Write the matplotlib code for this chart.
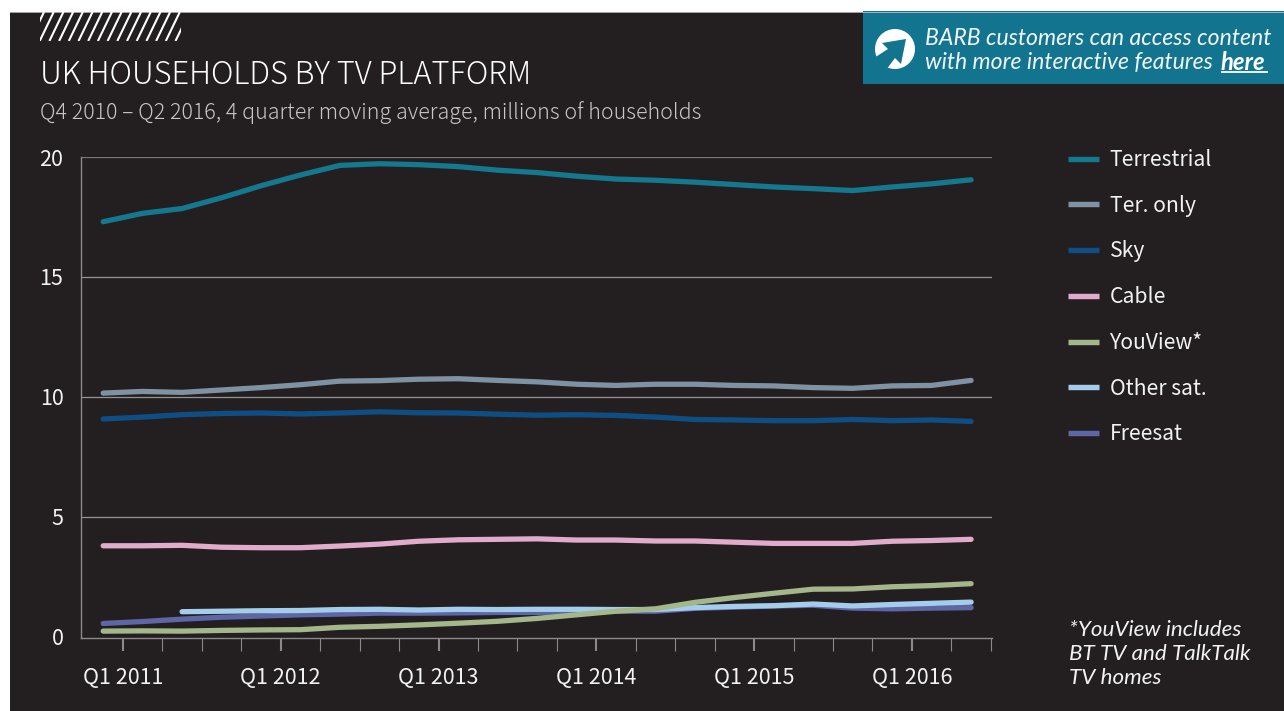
import matplotlib
matplotlib.use("Agg")
import matplotlib.pyplot as plt
from matplotlib.patches import Rectangle, Circle, Polygon
import numpy as np

quarters = list(range(23))
terrestrial = [17.3,17.65,17.85,18.3,18.8,19.25,19.65,19.72,19.68,19.6,19.45,19.35,19.2,19.08,19.03,18.95,18.85,18.75,18.68,18.6,18.75,18.88,19.05]
ter_only = [10.15,10.22,10.18,10.28,10.38,10.5,10.65,10.67,10.73,10.75,10.68,10.62,10.52,10.47,10.52,10.52,10.47,10.45,10.38,10.35,10.45,10.47,10.68]
sky = [9.07,9.15,9.25,9.3,9.32,9.28,9.32,9.37,9.33,9.32,9.27,9.23,9.25,9.22,9.15,9.05,9.03,9.0,9.0,9.05,9.0,9.03,8.97]
cable = [3.78,3.78,3.8,3.72,3.7,3.7,3.77,3.85,3.97,4.03,4.05,4.07,4.02,4.02,3.98,3.98,3.93,3.88,3.88,3.88,3.97,4.0,4.05]
youview = [.22,.23,.22,.25,.27,.28,.38,.42,.48,.55,.63,.75,.9,1.05,1.15,1.42,1.62,1.8,1.97,1.98,2.07,2.12,2.2]
other_sat = [None,None,1.03,1.05,1.07,1.08,1.12,1.13,1.1,1.13,1.12,1.13,1.13,1.12,1.12,1.2,1.25,1.28,1.35,1.27,1.33,1.38,1.43]
freesat = [.54,.62,.72,.8,.85,.9,.93,.97,.97,.98,1.0,1.0,1.03,1.05,1.05,1.17,1.22,1.27,1.3,1.18,1.15,1.18,1.2]
y_ticks = [0,5,10,15,20]
x_tick_labels = ["Q1 2011","Q1 2012","Q1 2013","Q1 2014","Q1 2015","Q1 2016"]

BG = "#231F20"; W = 1284; H = 711
SANS = ["Noto Sans CJK JP","DejaVu Sans"]
ITAL = "Lato"
TXT = "#F2F2F2"

fig = plt.figure(figsize=(W/100,H/100),dpi=100,facecolor="white")
deco = fig.add_axes([0,0,1,1]); deco.set_xlim(0,W); deco.set_ylim(H,0); deco.axis("off")
deco.add_patch(Rectangle((9.5,11.5),W,H,fc=BG,ec="none"))
deco.plot([9.5,W],[11.5,11.5],color="#BDBDBD",lw=0.6)

# hatch strip
clip = Rectangle((40,12),140.5,29,transform=deco.transData,fc="none",ec="none")
deco.add_patch(clip)
for x0 in np.arange(30,200,9.7):
    l, = deco.plot([x0,x0+14],[41,12],color="white",lw=1.5,solid_capstyle="butt")
    l.set_clip_path(clip)

deco.text(39.5,75.5,"UK HOUSEHOLDS BY TV PLATFORM",family=SANS,fontsize=22.2,color="white",va="center",fontweight="light")
deco.text(39.5,113,"Q4 2010 – Q2 2016, 4 quarter moving average, millions of households",family=SANS,fontsize=15.4,color="#C8C6C6",va="center",fontweight="light")

# banner
TEAL = "#12748F"
deco.add_patch(Rectangle((863,11),W-863,72.5,fc=TEAL,ec="none"))
deco.add_patch(Circle((895,49),20,fc="white",ec="none"))
deco.add_patch(Polygon([[906,39],[882,43],[888,49],[874,58],[886,70],[895,58],[901,64]],fc=TEAL,ec="none"))
deco.text(925,38.5,"BARB customers can access content",family=ITAL,style="italic",fontsize=16.6,color="#F2F7F9",va="center")
deco.text(925,62.5,"with more interactive features ",family=ITAL,style="italic",fontsize=16.6,color="#F2F7F9",va="center")
deco.text(1221,62.5,"here",family=ITAL,style="italic",fontweight="bold",fontsize=17.2,color="white",va="center")
deco.plot([1221.5,1267],[71.5,71.5],color="white",lw=1.3)

# footnote
for y,s in zip([630,654,678],["*YouView includes","BT TV and TalkTalk","TV homes"]):
    deco.text(1069,y,s,family=ITAL,style="italic",fontsize=16.1,color=TXT,va="center")

ax = fig.add_axes([81.5/W,1-638/H,(992-81.5)/W,(638-157)/H])
ax.patch.set_alpha(0)
ax.set_xlim(-0.55,22.53); ax.set_ylim(-0.067,20)
for s in ["top","right"]: ax.spines[s].set_visible(False)
for s in ["left","bottom"]:
    ax.spines[s].set_color("#8A8A8A"); ax.spines[s].set_linewidth(1.0)
ax.yaxis.grid(True,color="#959595",lw=0.9); ax.set_axisbelow(True)
ax.set_yticks(y_ticks)
ax.yaxis.get_gridlines()[0].set_visible(False)
ax.yaxis.get_gridlines()[-1].set_color("#777777")
ax.tick_params(axis="y",length=0,pad=13,labelsize=15.5,labelcolor=TXT)
for lab in ax.get_yticklabels(): lab.set_family(SANS)
major = np.arange(0.5,22,4)
minor = [v+0.5 for v in range(-1,23) if (v+0.5) not in major and v+0.5>-0.5]
ax.set_xticks(major); ax.set_xticklabels(x_tick_labels,family=SANS,fontsize=15.5,color=TXT)
ax.set_xticks(minor,minor=True)
ax.tick_params(axis="x",which="major",length=9.1,width=1.5,color="#8A8A8A",pad=12)
ax.tick_params(axis="x",which="minor",length=9.1,width=0.8,color="#8A8A8A")

series = [("Terrestrial",terrestrial,"#14788F"),("Ter. only",ter_only,"#7F92A3"),("Sky",sky,"#0F4E85"),
          ("Cable",cable,"#E2ABCB"),("YouView*",youview,"#A3B78B"),("Other sat.",other_sat,"#A3CDEB"),("Freesat",freesat,"#5F66A6")]
order = ["Terrestrial","Ter. only","Sky","Cable","Freesat","Other sat.","YouView*"]
hs = {}
for name,vals,c in series:
    v = np.array([np.nan if a is None else a for a in vals],float)
    l, = ax.plot(quarters,v,color=c,lw=3.8,solid_capstyle="round",solid_joinstyle="round",
                 zorder=3+order.index(name),label=name)
    hs[name]=l
leg = ax.legend([hs[n] for n,_,_ in series],[n for n,_,_ in series],
                loc="upper left",bbox_to_anchor=(1067.5/W,1-149/H),bbox_transform=fig.transFigure,
                frameon=False,prop={"family":SANS,"size":15.2},labelcolor=TXT,
                handlelength=1.49,handletextpad=0.5,labelspacing=1.125,borderpad=0,borderaxespad=0)
for h in leg.legend_handles: h.set_solid_capstyle("butt"); h.set_linewidth(3.9)
fig.savefig("out.png",dpi=100,facecolor="white")
